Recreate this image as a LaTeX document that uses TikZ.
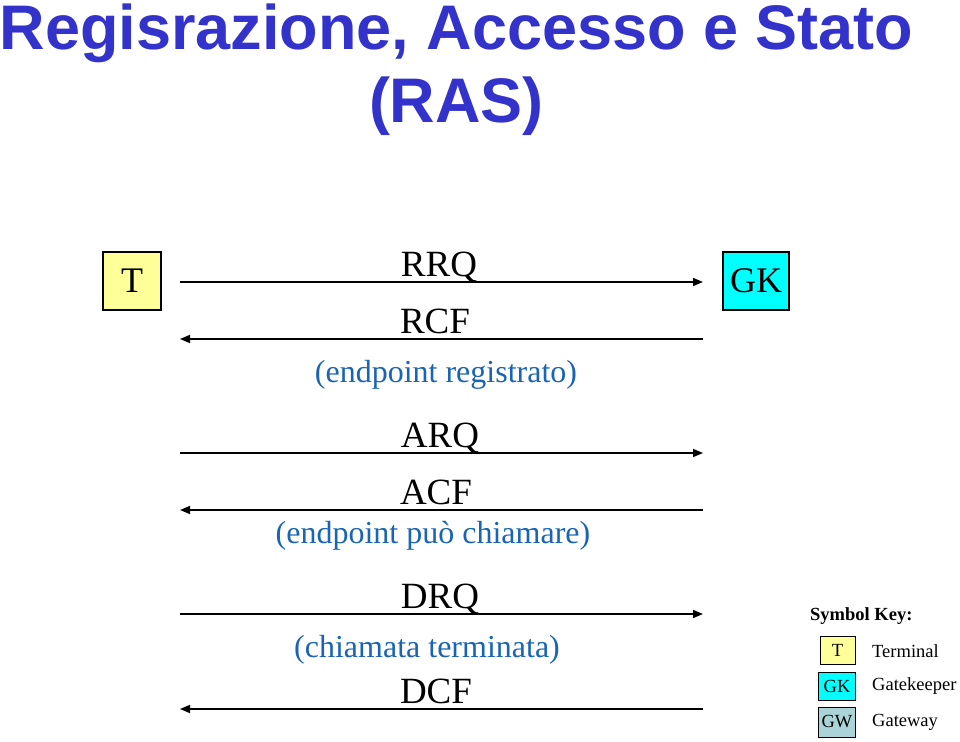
\documentclass[tikz,border=0pt]{standalone}
\usepackage{fontspec}
\setmainfont{Liberation Serif}
\newfontfamily\titlefont{Liberation Sans}
\usetikzlibrary{arrows.meta}
\definecolor{titleblue}{RGB}{51,51,204}
\definecolor{noteblue}{RGB}{25,100,180}
\definecolor{tyellow}{RGB}{255,255,153}
\definecolor{gkcyan}{RGB}{0,255,255}
\definecolor{gwgray}{RGB}{170,212,216}
\tikzset{
  titletext/.style={font=\titlefont\bfseries\fontsize{63}{63}\selectfont, text=titleblue, anchor=base, inner sep=0pt},
  entity/.style={draw=black, line width=1.2pt, inner sep=0pt, font=\fontsize{36}{36}\selectfont},
  msg/.style={font=\fontsize{37}{37}\selectfont, anchor=base, inner sep=0pt},
  note/.style={font=\fontsize{32}{32}\selectfont, text=noteblue, anchor=base, inner sep=0pt},
  arr/.style={line width=1.6pt, -{Triangle[length=10pt,width=8pt]}},
  keybox/.style={draw=black, line width=1pt, inner sep=0pt, minimum width=37pt, minimum height=28pt, font=\fontsize{18.5}{18.5}\selectfont},
  keytext/.style={font=\fontsize{18.5}{18.5}\selectfont, anchor=west, inner sep=0pt},
}
\begin{document}
\begin{tikzpicture}[x=1pt,y=-1pt]
\useasboundingbox (0,0) rectangle (960,741);
% title
\node[titletext] (title1) at (456.5,50) {Regisrazione, Accesso e Stato};
\node[titletext] (title2) at (456.5,122) {(RAS)};
% entities
\node[entity, fill=tyellow, minimum width=58pt, minimum height=58pt] (T) at (132,281) {T};
\node[entity, fill=gkcyan, minimum width=66pt, minimum height=58pt] (GK) at (756,281) {GK};
% coordinates for arrows
\coordinate (L1) at (180,282); \coordinate (R1) at (703,282);
\coordinate (L2) at (180,339); \coordinate (R2) at (703,339);
\coordinate (L3) at (180,453); \coordinate (R3) at (703,453);
\coordinate (L4) at (180,510); \coordinate (R4) at (703,510);
\coordinate (L5) at (180,614); \coordinate (R5) at (703,614);
\coordinate (L6) at (180,709); \coordinate (R6) at (703,709);
\draw[arr] (L1) -- (R1);
\draw[arr] (R2) -- (L2);
\draw[arr] (L3) -- (R3);
\draw[arr] (R4) -- (L4);
\draw[arr] (L5) -- (R5);
\draw[arr] (R6) -- (L6);
% labels
\node[msg] (rrq) at (439,276) {RRQ};
\node[msg] (rcf) at (435,333) {RCF};
\node[note] (n1) at (446,382) {(endpoint registrato)};
\node[msg] (arq) at (440,447) {ARQ};
\node[msg] (acf) at (436,504) {ACF};
\node[note] (n2) at (433,543) {(endpoint può chiamare)};
\node[msg] (drq) at (440,608) {DRQ};
\node[note] (n3) at (427,657) {(chiamata terminata)};
\node[msg] (dcf) at (436,703) {DCF};
% legend
\node[font=\bfseries\fontsize{18.5}{18.5}\selectfont, anchor=base west, inner sep=0pt] (key) at (810,620) {Symbol Key:};
\node[keybox, fill=tyellow, minimum width=35pt] (kT) at (837.5,650) {T};
\node[keybox, fill=gkcyan] (kGK) at (837,686) {GK};
\node[keybox, fill=gwgray, minimum height=30pt] (kGW) at (837,722) {GW};
\node[keytext] (tT) at (872,651) {Terminal};
\node[keytext] (tGK) at (872,686) {Gatekeeper};
\node[keytext] (tGW) at (872,722) {Gateway};
\end{tikzpicture}
\end{document}
